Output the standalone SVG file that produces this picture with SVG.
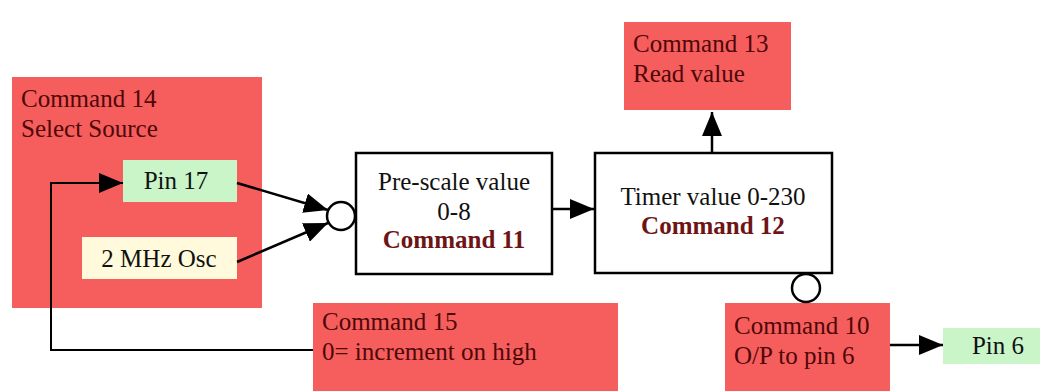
<svg xmlns="http://www.w3.org/2000/svg" width="1052" height="392" viewBox="0 0 1052 392" font-family="'Liberation Serif', 'DejaVu Serif', serif">
<style>
.red{fill:#f65d5d}
.green{fill:#c9f5c9}
.yel{fill:#fffadb}
.box{fill:#ffffff;stroke:#000;stroke-width:2.5}
text{font-family:'Liberation Serif', 'DejaVu Serif', serif;font-size:25px}
.rt{fill:#4e0808}
.kt{fill:#111}
.bt{fill:#6e1414;font-weight:bold}
.ln{fill:none;stroke:#000;stroke-width:2.5}
.thin{fill:none;stroke:#000;stroke-width:2}
.circ{fill:#fff;stroke:#000;stroke-width:2.5}
</style>
<defs>
<marker id="ah" viewBox="0 0 24 20" refX="24" refY="10" markerWidth="24" markerHeight="20" markerUnits="userSpaceOnUse" orient="auto">
<path d="M0,0 L24,10 L0,20 z" fill="#000"/>
</marker>
</defs>
<rect width="1052" height="392" fill="#fff"/>
<g id="cmd14">
<rect class="red" x="12" y="77" width="250" height="231"/>
<text class="rt" x="21" y="107">Command 14</text>
<text class="rt" x="21" y="137">Select Source</text>
</g>
<g id="pin17">
<rect class="green" x="123" y="160" width="114" height="42"/>
<text class="kt" x="176" y="189" text-anchor="middle">Pin 17</text>
</g>
<g id="osc">
<rect class="yel" x="82" y="237" width="155" height="42"/>
<text class="kt" x="159" y="267" text-anchor="middle">2 MHz Osc</text>
</g>
<g id="prescale">
<rect class="box" x="356" y="153" width="196" height="121"/>
<text class="kt" x="454" y="190" text-anchor="middle">Pre-scale value</text>
<text class="kt" x="454" y="220" text-anchor="middle">0-8</text>
<text class="bt" x="454" y="248" text-anchor="middle">Command 11</text>
</g>
<g id="timer">
<rect class="box" x="595" y="153" width="237" height="120"/>
<text class="kt" x="713" y="205" text-anchor="middle">Timer value 0-230</text>
<text class="bt" x="713" y="234" text-anchor="middle">Command 12</text>
</g>
<g id="cmd13">
<rect class="red" x="624" y="22" width="167" height="88"/>
<text class="rt" x="633" y="52">Command 13</text>
<text class="rt" x="633" y="82">Read value</text>
</g>
<g id="cmd10">
<rect class="red" x="725" y="303" width="165" height="88"/>
<text class="rt" x="734" y="334">Command 10</text>
<text class="rt" x="734" y="364">O/P to pin 6</text>
</g>
<g id="pin6">
<rect class="green" x="943" y="328" width="97" height="36"/>
<text class="kt" x="998" y="354" text-anchor="middle">Pin 6</text>
</g>
<g id="cmd15">
<rect class="red" x="313" y="303" width="305" height="88"/>
<text class="rt" x="322" y="330">Command 15</text>
<text class="rt" x="322" y="360">0= increment on high</text>
</g>
<g id="connectors">
<circle class="circ" cx="341" cy="216" r="14"/>
<circle class="circ" cx="806" cy="288" r="14"/>
<line class="ln" x1="237" y1="183" x2="328" y2="210" marker-end="url(#ah)"/>
<line class="ln" x1="237" y1="262" x2="328" y2="223" marker-end="url(#ah)"/>
<line class="ln" x1="552" y1="209" x2="594" y2="209" marker-end="url(#ah)"/>
<line class="ln" x1="712" y1="153" x2="712" y2="112" marker-end="url(#ah)"/>
<line class="ln" x1="890" y1="345" x2="943" y2="345" marker-end="url(#ah)"/>
<polyline class="thin" points="313,350 51,350 51,183 123,183" marker-end="url(#ah)"/>
</g>
</svg>
